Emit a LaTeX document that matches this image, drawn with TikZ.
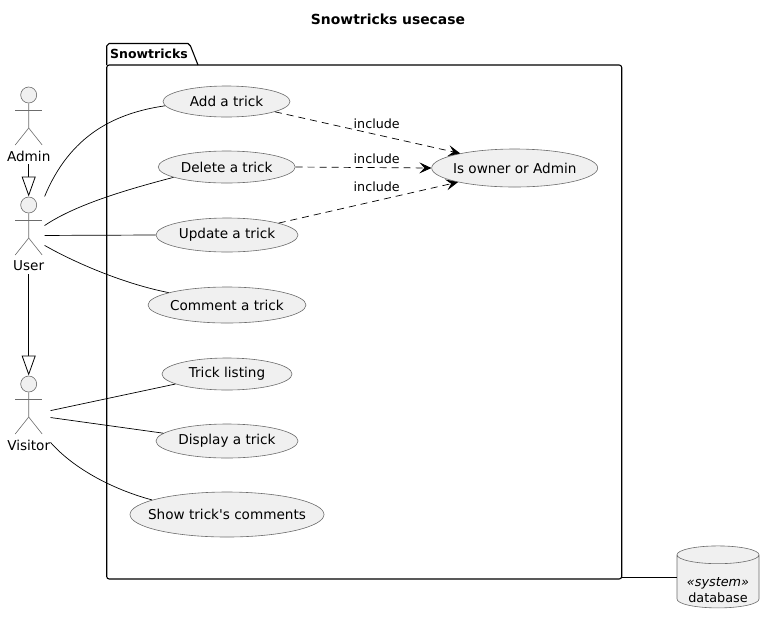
\documentclass[tikz,border=0pt]{standalone}
\usepackage{fontspec}
\setmainfont{DejaVu Sans}
\usetikzlibrary{shapes.geometric,arrows.meta,positioning,fit}

% Acteur : nom, texte, x, haut de la tete
\newcommand{\actorfig}[4]{
    \node[actorhead] (#1_head) at (#3, #4+8) {};
    \node[actorname] (#1_name) at (#3, #4+69) {#2};
    \node[actorbox, fit=(#1_head)(#1_name)] (#1) {};
    \draw[actorline] (#1_head.south) -- (#3, #4+41) -- (#3-13.5, #4+58);
    \draw[actorline] (#3, #4+41) -- (#3+13.5, #4+58);
    \draw[actorline] (#3-13.5, #4+23.5) -- (#3+13.5, #4+23.5);
}

\begin{document}
\begin{tikzpicture}[
    x=1pt, y=-1pt,
    font=\fontsize{13.6}{16}\selectfont,
    usecase/.style={ellipse, draw=gray!85!black, fill=black!6, line width=0.6pt, inner xsep=-12pt, inner ysep=0pt, align=center},
    actorhead/.style={circle, draw=gray!85!black, fill=black!6, line width=0.6pt, minimum size=16pt, inner sep=0pt},
    actorname/.style={inner sep=0pt, minimum height=16pt},
    actorbox/.style={inner sep=0pt},
    actorline/.style={draw=gray!85!black, line width=0.6pt},
    folderbox/.style={draw=black, line width=1.1pt, rounded corners=2.5pt, minimum width=515pt, minimum height=514pt, inner sep=0pt},
    dbbox/.style={cylinder, shape border rotate=90, shape aspect=0.27, draw=gray!85!black, fill=black!6, cylinder uses custom fill, cylinder body fill=black!6, cylinder end fill=black!6, line width=0.6pt, minimum width=82pt, minimum height=62pt, inner sep=0pt, align=center},
    assoc/.style={draw=black, line width=0.7pt},
    incl/.style={draw=black, line width=0.7pt, dash pattern=on 7pt off 5pt, -{Stealth[length=12pt,width=11pt,inset=5pt]}},
    inherit/.style={draw=black, line width=0.8pt, -{Triangle[open,length=20pt,width=14pt,fill=white]}},
    incllabel/.style={inner sep=0pt, font=\fontsize{12.7}{15}\selectfont}
]
    \useasboundingbox (0,0) rectangle (775,625);

    % Titre
    \node[font=\fontsize{13.9}{16}\selectfont\bfseries] (title) at (388,19) {Snowtricks usecase};

    % Dossier du paquet
    \draw[black, line width=1.1pt, line join=round] (106.7,65) -- (106.7,46) -- ++(2.5,-2.5) -- (188,43.5) -- ++(2.5,2.5) -- (198,65);
    \node[folderbox] (pkg) at (364.2,322) {};
    \node[anchor=west, inner sep=0pt, font=\fontsize{12.5}{15}\selectfont\bfseries] (pkg_name) at (110,54) {Snowtricks};

    % Cas d'utilisation
    \node[usecase, minimum width=127pt, minimum height=31pt] (add) at (226.5,101.5) {Add a trick};
    \node[usecase, minimum width=137pt, minimum height=32pt] (del) at (226.7,167) {Delete a trick};
    \node[usecase, minimum width=142pt, minimum height=34pt] (upd) at (227,235) {Update a trick};
    \node[usecase, minimum width=158pt, minimum height=36pt] (com) at (227,305) {Comment a trick};
    \node[usecase, minimum width=130pt, minimum height=32pt] (lst) at (227,374) {Trick listing};
    \node[usecase, minimum width=142pt, minimum height=34pt] (dsp) at (227,441) {Display a trick};
    \node[usecase, minimum width=194pt, minimum height=45pt] (shw) at (227,514.5) {Show trick\textquotesingle s comments};
    \node[usecase, minimum width=166pt, minimum height=38pt] (own) at (514.7,168) {Is owner or Admin};

    % Acteurs
    \actorfig{admin}{Admin}{28.7}{87}
    \actorfig{user}{User}{28.7}{197}
    \actorfig{visitor}{Visitor}{28.7}{376}

    % Base de donnees
    \node[dbbox] (db) at (718,581.5) {\phantom{«system»}\\\phantom{database}};
    \node[inner sep=0pt, align=center, font=\fontsize{12.8}{16}\selectfont] (db_text) at (718,590) {\textit{«system»}\\database};

    % Heritage
    \draw[inherit] (admin.south) -- (user.north);
    \draw[inherit] (user.south) -- (visitor.north);

    % Liens acteurs
    \draw[assoc] (user.north east) .. controls (70,135) and (115,113) .. (add.184);
    \draw[assoc] (user.32) .. controls (75,205) and (125,190) .. (del.191);
    \draw[assoc] (user.east) -- (upd.west);
    \draw[assoc] (user.-32) .. controls (70,260) and (120,283) .. (com.168);
    \draw[assoc] (visitor.10) -- (lst.191);
    \draw[assoc] (visitor.-8) -- (dsp.173);
    \draw[assoc] (visitor.-52) .. controls (75,470) and (115,490) .. (shw.169);

    % Liens include
    \draw[incl] (add.-12) -- (own.165.5);
    \draw[incl] (del.east) -- (own.west);
    \draw[incl] (upd.13.6) -- (own.194.5);
    \node[incllabel] (incl_a) at (376.7,123.5) {include};
    \node[incllabel] (incl_b) at (376.7,159) {include};
    \node[incllabel] (incl_c) at (376.7,187) {include};

    % Lien vers la base
    \draw[assoc] ([yshift=4.5pt]db.west) -- ([yshift=4.5pt]db.west -| pkg.east);
\end{tikzpicture}
\end{document}
